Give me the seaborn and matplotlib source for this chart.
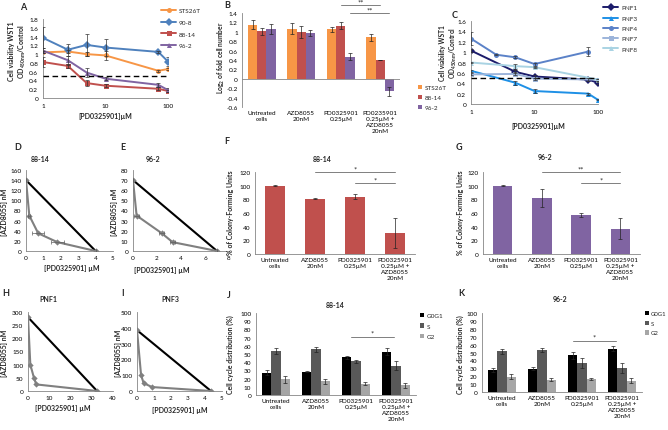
import numpy as np
import pandas as pd
import matplotlib
matplotlib.use("Agg")
import matplotlib.pyplot as plt
import seaborn as sns

# ---------------- data ----------------
conc = [1, 2.5, 5, 10, 70, 100]

# Panel A (cell viability, NF1 lines)
a_names = ["STS26T", "90-8", "88-14", "96-2"]
a_sts26t = [1.04, 1.06, 1.00, 0.97, 0.62, 0.66]
a_sts26t_err = [0.02, 0.03, 0.05, 0.11, 0.02, 0.03]
a_908 = [1.37, 1.10, 1.21, 1.15, 1.05, 0.83]
a_908_err = [0.24, 0.14, 0.25, 0.19, 0.02, 0.10]
a_8814 = [0.82, 0.73, 0.34, 0.28, 0.21, 0.16]
a_8814_err = [0.12, 0.05, 0.07, 0.03, 0.03, 0.03]
a_962 = [1.08, 0.86, 0.58, 0.44, 0.30, 0.18]
a_962_err = [0.05, 0.10, 0.10, 0.03, 0.05, 0.05]

# Panel C (PNF lines)
nan = np.nan
c_names = ["PNF1", "PNF3", "PNF4", "PNF7", "PNF8"]
c_pnf1 = [1.03, nan, 0.62, 0.53, 0.47, 0.41]
c_pnf1_err = [0.03, 0, 0.03, 0.02, 0.03, 0.02]
c_pnf3 = [0.64, nan, 0.41, 0.25, 0.20, 0.08]
c_pnf3_err = [0.02, 0, 0.04, 0.04, 0.02, 0.01]
c_pnf4 = [1.26, 0.95, 0.90, 0.77, 1.01, nan]
c_pnf4_err = [0.12, 0.01, 0.02, 0.03, 0.08, 0]
c_pnf7 = [0.57, nan, 0.58, 0.49, nan, 0.47]
c_pnf7_err = [0.02, 0, 0.03, 0.02, 0, 0.02]
c_pnf8 = [0.80, nan, 0.73, 0.71, nan, 0.47]
c_pnf8_err = [0.01, 0, 0.05, 0.01, 0, 0.02]

# Panel B (log2 fold cell number)
treat_b = ["Untreated\ncells", "AZD8055\n20nM", "PD0325901\n0.25µM",
           "PD0235901\n0.25µM +\nAZD8055\n20nM"]
b_names = ["STS26T", "88-14", "96-2"]
b_sts26t = [1.15, 1.07, 1.05, 0.88]
b_sts26t_err = [0.10, 0.11, 0.06, 0.08]
b_8814 = [1.01, 1.00, 1.13, 0.41]
b_8814_err = [0.08, 0.13, 0.07, 0.0]
b_962 = [1.06, 0.97, 0.47, -0.27]
b_962_err = [0.10, 0.06, 0.08, 0.10]

treat = ["Untreated\ncells", "AZD8055\n20nM", "PD0325901\n0.25µM",
         "PD0325901\n0.25µM +\nAZD8055\n20nM"]

# Isobolograms
d_pd = [0, 0.19, 0.7, 1.8, 4.0]
d_azd = [140, 70, 35, 17.5, 0]
d_err = [0, 0.05, 0.35, 0.38, 0]
e_pd = [0, 0.3, 2.4, 3.3, 7.0]
e_azd = [70, 35, 17.5, 8.75, 0]
e_err = [0, 0.2, 0.2, 0.2, 0]
h_pd = [0, 1.1, 2.8, 3.9, 32.5]
h_azd = [280, 100, 50, 25, 0]
i_pd = [0, 0.24, 0.39, 0.88, 4.35]
i_azd = [385, 100, 50, 25, 0]

# Colony forming
f_vals = [100, 81, 84, 31]
f_err = [0.5, 1, 4, 22]
g_vals = [100, 82, 56.5, 37]
g_err = [0.3, 13, 3, 15]

# Cell cycle
phases = ["G0G1", "S", "G2"]
j_g0g1 = [27, 28.5, 46, 53]
j_g0g1_err = [3, 1, 2, 4.5]
j_s = [54, 56, 41, 35.5]
j_s_err = [3.5, 3, 2, 5.5]
j_g2 = [19, 17, 14, 12]
j_g2_err = [4.5, 3, 2, 3]
k_g0g1 = [28, 29.5, 46.5, 55]
k_g0g1_err = [2.5, 2, 4.5, 3.5]
k_s = [51.5, 53.5, 37, 30.5]
k_s_err = [3, 2.5, 6.5, 6.5]
k_g2 = [19.5, 15.5, 16.5, 14.5]
k_g2_err = [3, 2, 1.5, 3]

# ---------------- style ----------------
sns.set_theme(style="white")
FONT = ["Lato", "DejaVu Sans"]
plt.rcParams["font.family"] = FONT
plt.rcParams["mathtext.fontset"] = "custom"
plt.rcParams["mathtext.rm"] = "Lato"
plt.rcParams["mathtext.bf"] = "Lato:bold"

W, H = 668, 431
fig = plt.figure(figsize=(W / 100, H / 100), dpi=100)
fig.patch.set_facecolor("white")

TICK = 4.6
LAB = 5.0
AX_COL = "#868686"

c_or, c_bl, c_rd, c_pu = "#F79646", "#4F81BD", "#C0504D", "#8064A2"


def add_ax(x0, x1, ytop, ybot):
    ax = fig.add_axes([x0 / W, 1 - ybot / H, (x1 - x0) / W, (ybot - ytop) / H])
    ax.set_facecolor("none")
    for s in ["top", "right"]:
        ax.spines[s].set_visible(False)
    for s in ["left", "bottom"]:
        ax.spines[s].set_color(AX_COL)
        ax.spines[s].set_linewidth(0.6)
    ax.tick_params(axis="both", labelsize=TICK, length=2, width=0.5,
                   color=AX_COL, pad=1.5, labelcolor="black")
    ax.set_xlabel("")
    ax.set_ylabel("")
    return ax


def ftext(x, y, s, size=LAB, bold=True, rot=0, ha="center", va="center", **kw):
    fig.text(x / W, 1 - y / H, s, fontsize=size,
             fontweight="bold" if bold else "normal",
             rotation=rot, ha=ha, va=va, **kw)


def place_legend(ax, handles, labels, x, y, **kw):
    opts = dict(fontsize=4.6, handletextpad=0.4)
    opts.update(kw)
    leg = ax.legend(handles, labels, loc="upper left",
                    bbox_to_anchor=(x / W, 1 - y / H),
                    bbox_transform=fig.transFigure, frameon=False,
                    borderpad=0, borderaxespad=0, **opts)
    return leg


def line_panel(ax, names, series, errs, palette, markers):
    rows = []
    for n, vals in zip(names, series):
        for c, v in zip(conc, vals):
            if not np.isnan(v):
                rows.append({"conc": c, "val": v, "line": n})
    df = pd.DataFrame(rows)
    ax.set_xscale("log")
    sns.lineplot(data=df, x="conc", y="val", hue="line", style="line",
                 hue_order=names, style_order=names, palette=palette,
                 markers=markers, dashes=False, linewidth=1.4,
                 markersize=3.6, markeredgewidth=0, ax=ax, legend=True,
                 errorbar=None)
    for n, vals, e in zip(names, series, errs):
        vv = np.array(vals, float)
        ee = np.array(e, float)
        m = ~np.isnan(vv)
        ax.errorbar(np.array(conc)[m], vv[m], yerr=ee[m], fmt="none",
                    ecolor="#333333", elinewidth=0.5, capsize=1.2,
                    capthick=0.5, zorder=5)
    ax.axhline(0.5, xmin=0, xmax=1, color="black", lw=1.0, ls=(0, (4, 2.5)),
               zorder=4)
    ax.set_xlim(1, 100)
    ax.set_xticks([1, 10, 100])
    ax.set_xticklabels(["1", "10", "100"])
    ax.minorticks_off()
    ax.set_xlabel("")
    ax.set_ylabel("")
    h, l = ax.get_legend_handles_labels()
    return h, l


# ---------------- Panel A ----------------
axA = add_ax(43, 168, 20, 99)
hA, lA = line_panel(axA, a_names, [a_sts26t, a_908, a_8814, a_962],
                    [a_sts26t_err, a_908_err, a_8814_err, a_962_err],
                    dict(zip(a_names, [c_or, c_bl, c_rd, c_pu])),
                    dict(zip(a_names, ["o", "D", "s", "^"])))
axA.set_ylim(0, 1.8)
axA.set_yticks(np.arange(0, 1.81, 0.2))
axA.set_yticklabels(["0", "0.2", "0.4", "0.6", "0.8", "1", "1.2", "1.4", "1.6", "1.8"])
place_legend(axA, hA, lA, 161, 9, handlelength=2.4, labelspacing=0.95)
ftext(23, 7, "A", size=6.5)
ftext(12, 51, "Cell viability WST1", rot=90)
ftext(22, 51, r"OD$_{\mathbf{450nm}}$/Control", rot=90)
ftext(105, 117, "[PD0325901]µM")

# ---------------- Panel C ----------------
axC = add_ax(471, 598, 22, 105)
hC, lC = line_panel(axC, c_names, [c_pnf1, c_pnf3, c_pnf4, c_pnf7, c_pnf8],
                    [c_pnf1_err, c_pnf3_err, c_pnf4_err, c_pnf7_err, c_pnf8_err],
                    dict(zip(c_names, ["#1C1C6B", "#1E90E6", "#5B82C8", "#9CB4DA", "#A9D3E3"])),
                    dict(zip(c_names, ["D", "^", "o", "s", "^"])))
axC.set_ylim(0, 1.6)
axC.set_yticks(np.arange(0, 1.61, 0.2))
axC.set_yticklabels(["0", "0.2", "0.4", "0.6", "0.8", "1", "1.2", "1.4", "1.6"])
place_legend(axC, hC, lC, 603, 6, handlelength=2.4, labelspacing=0.75)
ftext(455, 15, "C", size=6.5)
ftext(443, 53, "Cell viability WST1", rot=90, size=4.8)
ftext(453, 53, r"OD$_{\mathbf{450nm}}$/Control", rot=90, size=4.8)
ftext(538, 127, "[PD0325901]µM")


# ---------------- bar helpers ----------------
def bar_errors(ax, err_lists):
    for cont, errs in zip(ax.containers, err_lists):
        xs, ys = [], []
        for bar in cont:
            xs.append(bar.get_x() + bar.get_width() / 2)
            ys.append(bar.get_y() + bar.get_height())
        ax.errorbar(xs, ys, yerr=errs, fmt="none", ecolor="#222222",
                    elinewidth=0.5, capsize=1.3, capthick=0.5, zorder=5)


def grouped_bars(ax, cats, names, series, errs, colors):
    rows = []
    for n, vals in zip(names, series):
        for c, v in zip(cats, vals):
            rows.append({"cat": c, "val": v, "grp": n})
    df = pd.DataFrame(rows)
    sns.barplot(data=df, x="cat", y="val", hue="grp", order=cats,
                hue_order=names, palette=dict(zip(names, colors)),
                width=0.7, errorbar=None, saturation=1, linewidth=0,
                ax=ax, legend=True)
    bar_errors(ax, errs)
    ax.set_xlim(-0.5, len(cats) - 0.5)
    ax.set_xlabel("")
    ax.set_ylabel("")
    ax.tick_params(axis="x", length=0, pad=2.5)
    for t in ax.get_xticklabels():
        t.set_linespacing(1.25)
    h, l = ax.get_legend_handles_labels()
    return h, l


def single_bars(ax, cats, vals, errs, color):
    sns.barplot(x=cats, y=vals, color=color, width=0.5, errorbar=None,
                saturation=1, linewidth=0, ax=ax)
    bar_errors(ax, [errs])
    ax.set_xlim(-0.5, len(cats) - 0.5)
    ax.set_ylim(0, 120)
    ax.set_yticks(np.arange(0, 121, 20))
    ax.tick_params(axis="x", length=0, pad=2.5)
    for t in ax.get_xticklabels():
        t.set_linespacing(1.25)


def sig(ax, x0, x1, y, txt, ty, tx=None):
    ax.plot([x0, x1], [y, y], color="#7F7F7F", lw=0.7, clip_on=False)
    ax.text((x0 + x1) / 2 if tx is None else tx, ty, txt, fontsize=5.5,
            ha="center", va="center", clip_on=False)


# ---------------- Panel B ----------------
axB = add_ax(242, 400, 14, 108)
hB, lB = grouped_bars(axB, treat_b, b_names, [b_sts26t, b_8814, b_962],
                      [b_sts26t_err, b_8814_err, b_962_err], [c_or, c_rd, c_pu])
axB.set_ylim(-0.6, 1.4)
axB.set_yticks(np.arange(-0.6, 1.41, 0.2))
axB.set_yticklabels(["-0.6", "-0.4", "-0.2", "0", "0.2", "0.4", "0.6", "0.8",
                     "1", "1.2", "1.4"])
axB.tick_params(axis="y", pad=1.0)
axB.spines["bottom"].set_visible(False)
axB.axhline(0, color=AX_COL, lw=0.6, zorder=1)
place_legend(axB, hB, lB, 418, 86, handlelength=0.7, handleheight=0.7,
             labelspacing=0.7)
sig(axB, 2.0, 3.0, 1.57, "**", 1.64)
sig(axB, 2.23, 3.23, 1.40, "**", 1.47)
ftext(227, 5, "B", size=6.5)
ftext(221, 58, r"Log$_{\mathbf{2}}$ of fold cell number", rot=90, size=4.8)


# ---------------- Isobolograms ----------------
def isobol(ax, pdv, azd, xerr, xlim, xt, ylim, yt):
    iso = pd.DataFrame({"pd": [pdv[0], pdv[-1]], "azd": [azd[0], azd[-1]]})
    sns.lineplot(data=iso, x="pd", y="azd", color="black", lw=1.5,
                 sort=False, ax=ax, zorder=2)
    comb = pd.DataFrame({"pd": pdv, "azd": azd})
    sns.lineplot(data=comb, x="pd", y="azd", color="#808080", lw=1.5,
                 marker="D", markersize=3.2, markeredgewidth=0, sort=False,
                 ax=ax, zorder=3)
    if xerr is not None:
        ax.errorbar(pdv, azd, xerr=xerr, fmt="none", ecolor="#606060",
                    elinewidth=0.5, capsize=1.2, capthick=0.5, zorder=4)
    ax.set_xlim(*xlim)
    ax.set_xticks(xt)
    ax.set_ylim(*ylim)
    ax.set_yticks(yt)
    ax.set_xlabel("")
    ax.set_ylabel("")
    ax.tick_params(axis="x", pad=1.0)


axD = add_ax(26, 113, 171, 252)
isobol(axD, d_pd, d_azd, d_err, (0, 5), range(0, 6), (0, 160), range(0, 161, 20))
ftext(18, 147, "D", size=6.5)
ftext(40, 160, "88-14")
ftext(5, 212, "[AZD8055] nM", rot=90)
ftext(72, 268, "[PD0325901] µM")

axE = add_ax(133, 229, 171, 252)
isobol(axE, e_pd, e_azd, e_err, (0, 8), range(0, 9, 2), (0, 80), range(0, 81, 10))
ftext(123, 147, "E", size=6.5)
ftext(153, 160, "96-2")
ftext(115, 212, "[AZD8055] nM", rot=90)
ftext(162, 271, "[PD0325901] µM")

axH = add_ax(28, 113, 313, 392)
isobol(axH, h_pd, h_azd, None, (0, 40), range(0, 41, 10), (0, 300), range(0, 301, 50))
ftext(6, 294, "H", size=6.5)
ftext(48, 300, "PNF1")
ftext(5, 353, "[AZD8055] nM", rot=90)
ftext(63, 409, "[PD0325901] µM")

axI = add_ax(137, 222, 313, 392)
isobol(axI, i_pd, i_azd, None, (0, 5), range(0, 6), (0, 500), range(0, 501, 100))
ftext(123, 294, "I", size=6.5)
ftext(170, 300, "PNF3")
ftext(118, 353, "[AZD8055] nM", rot=90)
ftext(180, 411, "[PD0325901] µM")

# ---------------- Panel F ----------------
axF = add_ax(255, 415, 173, 255)
single_bars(axF, treat, f_vals, f_err, c_rd)
sig(axF, 1, 3, 120, "*", 125, tx=2.0)
sig(axF, 2, 3, 104, "*", 109)
ftext(227, 142, "F", size=6.5)
ftext(322, 160, "88-14")
ftext(230, 213, "% of Colony-Forming Units", rot=90)

# ---------------- Panel G ----------------
axG = add_ax(483, 640, 173, 255)
single_bars(axG, treat, g_vals, g_err, c_pu)
sig(axG, 1, 3, 120, "**", 125, tx=2.0)
sig(axG, 2, 3, 104, "*", 109)
ftext(459, 147, "G", size=6.5)
ftext(545, 158, "96-2")
ftext(460, 213, "% of Colony-Forming Units", rot=90)

# ---------------- Panel J ----------------
gray3 = ["#000000", "#595959", "#A6A6A6"]
axJ = add_ax(256, 416, 314, 396)
hJ, lJ = grouped_bars(axJ, treat, phases, [j_g0g1, j_s, j_g2],
                      [j_g0g1_err, j_s_err, j_g2_err], gray3)
axJ.set_ylim(0, 100)
axJ.set_yticks(range(0, 101, 10))
place_legend(axJ, hJ, lJ, 420, 314, handlelength=0.7, handleheight=0.7,
             labelspacing=0.75)
sig(axJ, 1.88, 2.95, 71, "*", 76)
ftext(229, 295, "J", size=6.5)
ftext(335, 306, "88-14")
ftext(230, 355, "Cell cycle distribution (%)", rot=90)

# ---------------- Panel K ----------------
axK = add_ax(482, 642, 314, 393)
hK, lK = grouped_bars(axK, treat, phases, [k_g0g1, k_s, k_g2],
                      [k_g0g1_err, k_s_err, k_g2_err], gray3)
axK.set_ylim(0, 100)
axK.set_yticks(range(0, 101, 10))
place_legend(axK, hK, lK, 645, 312, handlelength=0.7, handleheight=0.7,
             labelspacing=0.75, handletextpad=0.3, fontsize=4.3)
sig(axK, 1.78, 2.85, 65, "*", 70)
ftext(461, 294, "K", size=6.5)
ftext(560, 300, "96-2")
ftext(460, 355, "Cell cycle distribution (%)", rot=90)

fig.savefig("out.png", dpi=100, facecolor="white")
